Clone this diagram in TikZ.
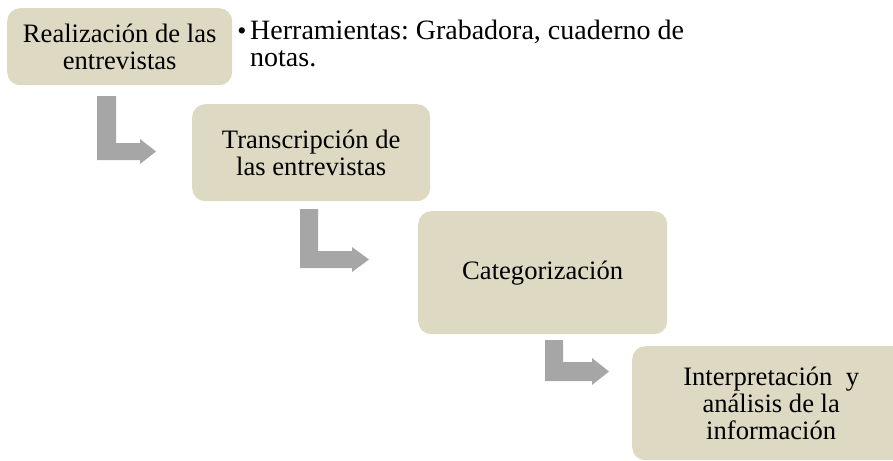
\documentclass[tikz,border=0pt]{standalone}
\usepackage{fontspec}
\setmainfont{Liberation Serif}
\frenchspacing
\definecolor{boxfill}{HTML}{DDD9C3}
\definecolor{arrgray}{HTML}{A6A6A6}
\begin{document}
\begin{tikzpicture}[x=1pt,y=-1pt,
  stepbox/.style={fill=boxfill, rounded corners=13pt, align=center, inner sep=0pt,
    anchor=north west, font=\fontsize{26.6}{27}\selectfont},
  bentarrow/.style={fill=arrgray},
  bullettext/.style={inner sep=0pt, anchor=base west, font=\fontsize{28}{27}\selectfont}]
\useasboundingbox (0,0) rectangle (893,460);
\begin{scope}
\clip (0,0) rectangle (893,460);
\node[stepbox, minimum width=225, minimum height=77] (s1) at (7,8) {Realización de las\\entrevistas};
\node[stepbox, minimum width=238, minimum height=97] (s2) at (192,104) {Transcripción de\\las entrevistas};
\node[stepbox, minimum width=249, minimum height=123] (s3) at (418,211) {Categorización};
\node[stepbox, minimum width=278, minimum height=114] (s4) at (632,346) {Interpretación\ \ y\\análisis de la\\información};

\node[bullettext] (tools) at (250,40) {\parbox[t]{460pt}{\raggedright Herramientas: Grabadora, cuaderno de\\notas.}};
\node[inner sep=0pt, anchor=base, font=\fontsize{26}{27}\selectfont] (bul) at (242,40) {•};

\coordinate (a1) at (97,96);
\coordinate (a2) at (300,209);
\coordinate (a3) at (545,340);
\fill[bentarrow] (a1) -- ++(19,0) -- ++(0,47) -- ++(24,0) -- ++(0,-4) -- ++(16,12.5) -- ++(-16,12.5) -- ++(0,-4) -- ++(-43,0) -- cycle;
\fill[bentarrow] (a2) -- ++(18,0) -- ++(0,42) -- ++(34,0) -- ++(0,-4) -- ++(17,12.5) -- ++(-17,12.5) -- ++(0,-4) -- ++(-52,0) -- cycle;
\fill[bentarrow] (a3) -- ++(18,0) -- ++(0,22) -- ++(29,0) -- ++(0,-4) -- ++(17,13.5) -- ++(-17,13.5) -- ++(0,-4) -- ++(-47,0) -- cycle;
\end{scope}
\end{tikzpicture}
\end{document}
